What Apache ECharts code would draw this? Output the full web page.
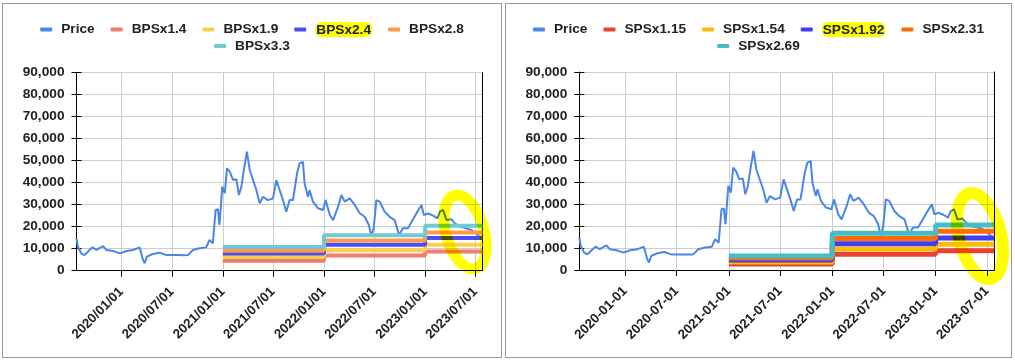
<!DOCTYPE html>
<html><head><meta charset="utf-8">
<script src="https://cdn.jsdelivr.net/npm/echarts@6/dist/echarts.min.js"></script>
<style>
html,body{margin:0;padding:0;background:#fff;width:1015px;height:360px;overflow:hidden;}
.panel{position:absolute;box-sizing:border-box;border:1px solid #999;background:#fff;}
#c1{left:2px;top:3px;width:500px;height:355px;}
#c2{left:505px;top:3px;width:507px;height:355px;}
.panel div.ch{width:100%;height:100%;}
</style></head>
<body>
<div class="panel" id="c1"><div class="ch" id="chart1"></div></div>
<div class="panel" id="c2"><div class="ch" id="chart2"></div></div>
<script>
// ---------- data ----------
const priceData = [
['2019-07-23',14700],['2019-07-28',10900],['2019-08-09',7900],['2019-08-21',7100],['2019-09-02',8600],['2019-09-18',10600],['2019-10-03',9500],['2019-10-27',11200],['2019-11-08',9400],['2019-12-02',8950],['2019-12-26',7900],['2020-01-19',8950],['2020-02-12',9400],['2020-03-07',10600],['2020-03-13',9800],['2020-03-19',4900],['2020-03-25',3400],['2020-04-02',6400],['2020-04-24',7600],['2020-05-18',8200],['2020-06-11',7100],['2020-07-05',7100],['2020-07-29',7100],['2020-08-10',7000],['2020-08-28',7100],['2020-09-15',9400],['2020-10-09',10200],['2020-11-02',10600],['2020-11-14',14000],['2020-11-26',12400],['2020-12-06',27600],['2020-12-14',28000],['2020-12-20',20800],['2020-12-30',38200],['2021-01-08',35200],['2021-01-16',46500],['2021-01-26',45000],['2021-02-07',41200],['2021-02-19',41600],['2021-02-28',34400],['2021-03-09',38200],['2021-03-18',45800],['2021-03-29',54100],['2021-04-08',45800],['2021-04-20',41200],['2021-05-02',36700],['2021-05-14',30600],['2021-05-26',33600],['2021-06-13',32100],['2021-07-01',32900],['2021-07-13',41200],['2021-07-25',36700],['2021-08-06',32100],['2021-08-18',26800],['2021-08-30',32100],['2021-09-11',32100],['2021-09-26',44300],['2021-10-05',48800],['2021-10-17',49500],['2021-10-23',39700],['2021-11-04',33600],['2021-11-10',36700],['2021-11-22',31400],['2021-12-10',28400],['2021-12-29',27600],['2022-01-07',32100],['2022-01-22',25300],['2022-02-03',23000],['2022-02-21',29100],['2022-03-05',34400],['2022-03-17',31400],['2022-04-04',32900],['2022-04-22',29900],['2022-05-10',26100],['2022-05-28',24500],['2022-06-12',20800],['2022-06-21',15500],['2022-06-30',20000],['2022-07-09',32100],['2022-07-21',31400],['2022-08-08',26800],['2022-08-26',24500],['2022-09-13',23000],['2022-09-29',16200],['2022-10-13',19300],['2022-10-31',19300],['2022-11-19',23500],['2022-12-07',27500],['2022-12-19',29900],['2022-12-27',25300],['2023-01-12',26000],['2023-01-30',25000],['2023-02-14',23800],['2023-02-23',26800],['2023-03-07',27600],['2023-03-19',23000],['2023-04-06',23400],['2023-04-18',21500],['2023-05-06',20000],['2023-05-30',19300],['2023-06-17',18500],['2023-07-05',17000],['2023-07-20',14700],['2023-07-27',15000]
];
const bandDates = ['2021-01-01','2022-01-01','2023-01-01','2023-07-27'];
// values per year (2021, 2022, 2023)
const bpsNames = ['BPSx1.4','BPSx1.9','BPSx2.4','BPSx2.8','BPSx3.3'];
const bps14 = [4550, 6860, 8680];
const bps19 = [6180, 9310, 11780];
const bps24 = [7800, 11760, 14880];
const bps28 = [9100, 13720, 17360];
const bps33 = [10730, 16170, 20460];
const spsNames = ['SPSx1.15','SPSx1.54','SPSx1.92','SPSx2.31','SPSx2.69'];
const sps115 = [2730, 7130, 8740];
const sps154 = [3650, 9550, 11700];
const sps192 = [4550, 11900, 14600];
const sps231 = [5480, 14320, 17560];
const sps269 = [6380, 16680, 20440];
const tickDates = ['2020-01-01','2020-07-01','2021-01-01','2021-07-01','2022-01-01','2022-07-01','2023-01-01','2023-07-01'];
const xMin = '2019-07-23', xMax = '2023-07-27';

// ---------- styles ----------
const FONT = "'Liberation Sans', Arial, sans-serif";
const FS = 13.7;
const TXT = '#222';
const T = s => +echarts.time.parse(s);

function bandSeries(name, vals, color, width) {
  const data = bandDates.map((d, i) => [T(d), vals[Math.min(i, vals.length - 1)]]);
  return {
    name, type: 'line', step: 'end', data, showSymbol: false, symbol: 'none',
    color, lineStyle: { width, color }, silent: true
  };
}

function build(cfg) {
  const tickVals = tickDates.map(T);
  const allNames = ['Price'].concat(cfg.names);
  const legendBase = {
    left: 'center', icon: 'roundRect', itemWidth: 12, itemHeight: 4, itemGap: 16,
    textStyle: { fontFamily: FONT, fontSize: FS, fontWeight: 'bold', color: TXT, padding: [0, 0, 0, 4],
      rich: { hl: { backgroundColor: '#ffff00', borderRadius: 6, padding: [1, 1, 0, 1], fontFamily: FONT, fontSize: FS, fontWeight: 'bold', color: TXT } } },
    formatter: n => n === cfg.highlight ? '{hl|' + n + '}' : n
  };
  const series = [{
    name: 'Price', type: 'line', data: priceData.map(p => [T(p[0]), p[1]]), showSymbol: false, symbol: 'none',
    color: '#4a86e8', lineStyle: { width: 2, color: '#4a86e8' }, silent: true
  }];
  cfg.names.forEach((n, i) => series.push(bandSeries(n, cfg.values[i], cfg.colors[i], cfg.width)));
  const yBase = { type: 'value', min: 0, max: 90000, interval: 10000 };
  return {
    animation: false,
    textStyle: { fontFamily: FONT },
    legend: [
      Object.assign({}, legendBase, { top: cfg.legendTop, data: allNames.slice(0, 5) }),
      Object.assign({}, legendBase, { top: cfg.legendTop + 17, data: allNames.slice(5) })
    ],
    grid: cfg.grid,
    xAxis: {
      type: 'value', min: T(xMin), max: T(xMax),
      axisLine: { show: true, onZero: false, lineStyle: { color: '#000', width: 1 } },
      axisTick: { show: true, customValues: tickVals, length: 6, lineStyle: { color: '#000' } },
      axisLabel: { customValues: tickVals, rotate: 45, margin: 19, fontFamily: FONT, fontSize: 13.3, fontWeight: 'bold', color: TXT,
        formatter: v => echarts.time.format(v, cfg.dateFmt, false) },
      splitLine: { show: true, lineStyle: { color: '#cccccc', width: 1 } }
    },
    yAxis: [
      Object.assign({}, yBase, {
        position: 'left',
        axisLine: { show: true, lineStyle: { color: '#000' } },
        axisTick: { show: true, length: 5, lineStyle: { color: '#000' } },
        axisLabel: { margin: 12, fontFamily: FONT, fontSize: FS, fontWeight: 'bold', color: TXT,
          formatter: v => v.toLocaleString('en-US') },
        splitLine: { show: true, lineStyle: { color: '#cccccc' } }
      }),
      Object.assign({}, yBase, {
        position: 'left', axisLine: { show: false },
        axisTick: { show: true, inside: true, length: 5, lineStyle: { color: '#000' } },
        axisLabel: { show: false }, splitLine: { show: false }
      }),
      Object.assign({}, yBase, {
        position: 'right', axisLine: { show: true, lineStyle: { color: '#000' } },
        axisTick: { show: false }, axisLabel: { show: false }, splitLine: { show: false }
      })
    ],
    series,
    graphic: [{
      type: 'ellipse', x: cfg.mark.x, y: cfg.mark.y, rotation: cfg.mark.rot, z: 100,
      shape: { cx: 0, cy: 0, rx: cfg.mark.rx, ry: cfg.mark.ry },
      style: { fill: 'none', stroke: '#ffff00', lineWidth: cfg.mark.w, blend: 'multiply' }
    }]
  };
}

const c1 = echarts.init(document.getElementById('chart1'), null, { renderer: 'canvas' });
c1.setOption(build({
  names: bpsNames, values: [bps14, bps19, bps24, bps28, bps33],
  colors: ['#f07b72', '#fcd04f', '#4d4df5', '#ff994d', '#6fcbd2'], width: 4,
  highlight: 'BPSx2.4', dateFmt: '{yyyy}/{MM}/{dd}', legendTop: 13,
  grid: { left: 73.5, right: 18.5, top: 68.7, bottom: 86.3 },
  mark: { x: 462, y: 228, rx: 19, ry: 38, rot: 0.28, w: 11 }
}));
const c2 = echarts.init(document.getElementById('chart2'), null, { renderer: 'canvas' });
c2.setOption(build({
  names: spsNames, values: [sps115, sps154, sps192, sps231, sps269],
  colors: ['#ea4335', '#fbbc04', '#3d3df5', '#ff6d01', '#46bdc6'], width: 5,
  highlight: 'SPSx1.92', dateFmt: '{yyyy}-{MM}-{dd}', legendTop: 13,
  grid: { left: 73.3, right: 16.7, top: 68, bottom: 87 },
  mark: { x: 474, y: 232, rx: 21, ry: 44, rot: 0.25, w: 12 }
}));
</script>
</body></html>
